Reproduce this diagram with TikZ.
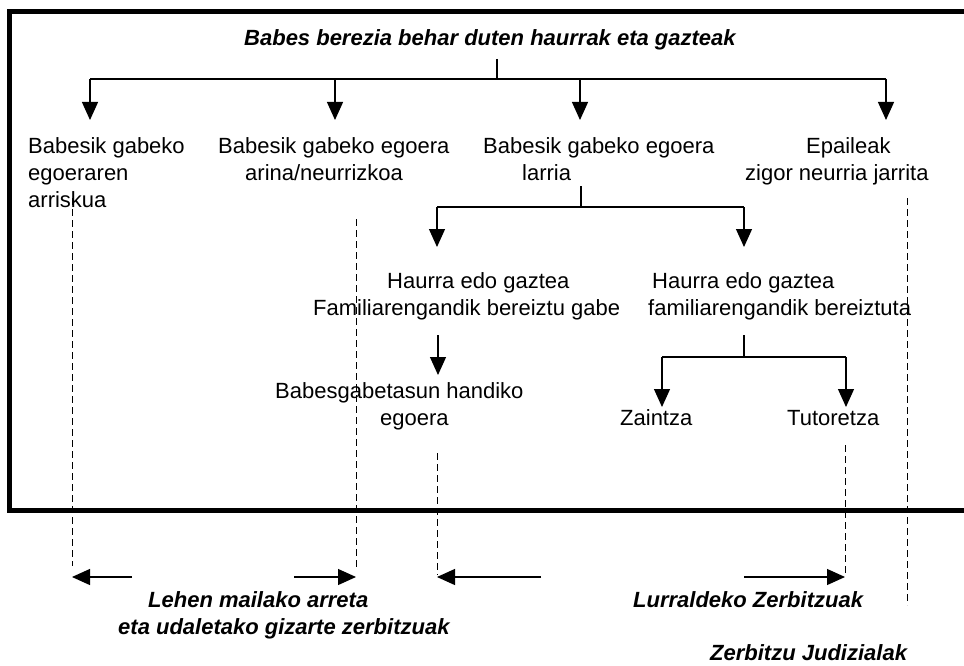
\documentclass[tikz,border=0pt]{standalone}
\usepackage{fontspec}
\setmainfont{Liberation Sans}
\usepackage{tikz}
\usetikzlibrary{positioning, arrows.meta}
\definecolor{inkBlack}{HTML}{000000}
\tikzset{
  casetext/.style={font=\fontsize{22}{27}\selectfont, text=inkBlack,
    inner sep=0pt, align=left, anchor=north west},
  onetext/.style={casetext, anchor=base west},
  svctext/.style={casetext, font=\fontsize{22}{27}\selectfont\bfseries\itshape},
  onesvc/.style={svctext, anchor=base west},
  tree/.style={draw=inkBlack, line width=1.2pt},
  drop/.style={tree, -{Triangle[length=18pt, width=16pt]}},
  reach/.style={draw=inkBlack, line width=1pt, dash pattern=on 7pt off 4pt}
}

\begin{document}
\begin{tikzpicture}[x=1pt, y=-1pt]
    \useasboundingbox (0,0) rectangle (964,666);
    % ---- open frame ----
    \draw[line width=4.5pt] (964,11.5) -- (9.5,11.5) -- (9.5,510.5) -- (964,510.5);
    % ---- texts ----
    \node[onesvc] (title) at (244,46) {Babes berezia behar duten haurrak eta gazteak};
    \node[casetext] (risk) at (28,137) {Babesik gabeko\\egoeraren\\arriskua};
    \node[casetext] (mild) at (218,137) {Babesik gabeko egoera\\\hspace*{27pt}arina/neurrizkoa};
    \node[casetext] (severe) at (483,137) {Babesik gabeko egoera\\\hspace*{39pt}larria};
    \node[casetext] (judge) at (745,137) {\hspace*{61pt}Epaileak\\zigor neurria jarrita};
    \node[casetext] (home) at (313,272) {\hspace*{74pt}Haurra edo gaztea\\Familiarengandik bereiztu gabe};
    \node[casetext] (apart) at (648,272) {\hspace*{4pt}Haurra edo gaztea\\familiarengandik bereiztuta};
    \node[casetext] (high) at (275,382) {Babesgabetasun handiko\\\hspace*{105pt}egoera};
    \node[onetext] (care) at (620,425) {Zaintza};
    \node[onetext] (guard) at (787,425) {Tutoretza};
    \node[svctext] (primary) at (118,591) {\hspace*{30pt}Lehen mailako arreta\\eta udaletako gizarte zerbitzuak};
    \node[onesvc] (county) at (633,607) {Lurraldeko Zerbitzuak};
    \node[onesvc] (court) at (710,660) {Zerbitzu Judizialak};
    % ---- first split ----
    \coordinate (split0) at (497,59);
    \coordinate (bar0) at (497,79);
    \coordinate (risk-in) at (90,120);
    \coordinate (mild-in) at (335,120);
    \coordinate (severe-in) at (580,120);
    \coordinate (judge-in) at (886,120);
    \draw[tree] (split0) -- (bar0);
    \draw[tree] (risk-in |- bar0) -- (judge-in |- bar0);
    \foreach \t in {risk,mild,severe,judge}
      \draw[drop] (\t-in |- bar0) -- (\t-in);
    % ---- second split ----
    \coordinate (split1) at (581,186);
    \coordinate (bar1) at (581,207);
    \coordinate (home-in) at (437,247);
    \coordinate (apart-in) at (744,247);
    \draw[tree] (split1) -- (bar1);
    \draw[tree] (home-in |- bar1) -- (apart-in |- bar1);
    \foreach \t in {home,apart}
      \draw[drop] (\t-in |- bar1) -- (\t-in);
    % ---- home branch ----
    \coordinate (high-out) at (438,335);
    \coordinate (high-in) at (438,375);
    \draw[drop] (high-out) -- (high-in);
    % ---- apart branch ----
    \coordinate (split2) at (744,335);
    \coordinate (bar2) at (744,357);
    \coordinate (care-in) at (662,407);
    \coordinate (guard-in) at (846,407);
    \draw[tree] (split2) -- (bar2);
    \draw[tree] (care-in |- bar2) -- (guard-in |- bar2);
    \foreach \t in {care,guard}
      \draw[drop] (\t-in |- bar2) -- (\t-in);
    % ---- service reach ----
    \foreach \n/\x/\ya/\yb in {rl/72/198/566, rr/356/219/567, tl/437/453/575,
                               tr/845/445/575, jd/907/198/605}{
      \coordinate (\n-top) at (\x,\ya);
      \coordinate (\n-end) at (\x,\yb);
      \draw[reach] (\n-top) -- (\n-end);
    }
    \coordinate (row) at (0,577);
    \coordinate (primary-l) at (132,577);
    \coordinate (primary-r) at (294,577);
    \coordinate (county-l) at (541,577);
    \coordinate (county-r) at (744,577);
    \draw[drop] (primary-l) -- (rl-end |- row);
    \draw[drop] (primary-r) -- (rr-end |- row);
    \draw[drop] (county-l) -- (tl-end |- row);
    \draw[drop] (county-r) -- (tr-end |- row);
  \end{tikzpicture}
\end{document}
